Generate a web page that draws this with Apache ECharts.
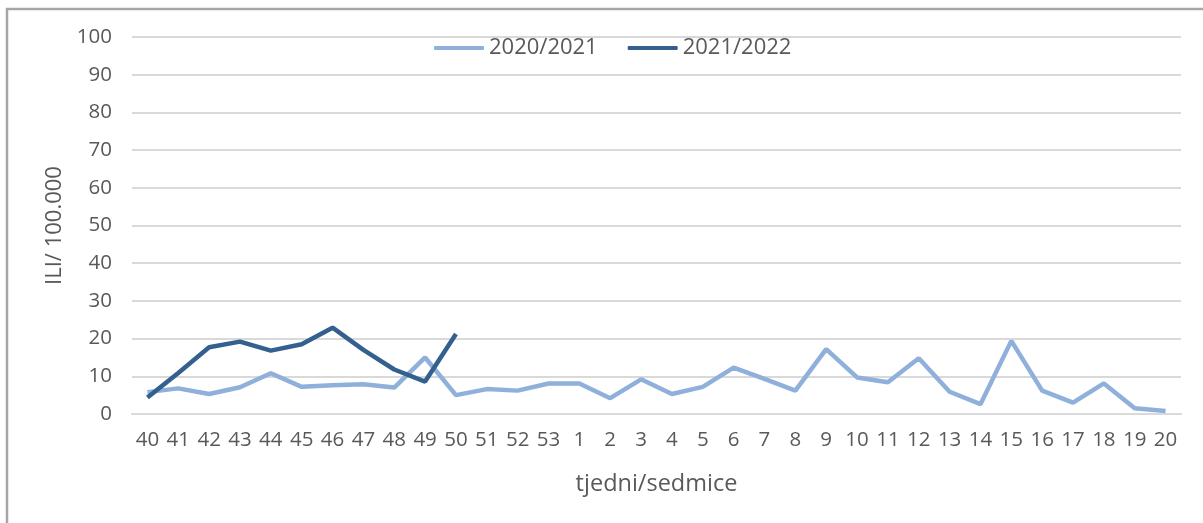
<!DOCTYPE html>
<html>
<head>
<meta charset="utf-8">
<script src="https://cdn.jsdelivr.net/npm/echarts@6/dist/echarts.min.js"></script>
<style>html,body{margin:0;padding:0;background:#fff}#c{width:1203px;height:523px}</style>
</head>
<body>
<div id="c"></div>
<script>
var weeks = ['40','41','42','43','44','45','46','47','48','49','50','51','52','53','1','2','3','4','5','6','7','8','9','10','11','12','13','14','15','16','17','18','19','20'];
var season2020 = [5.8,6.8,5.3,7.1,10.8,7.2,7.6,7.9,7.0,15.0,5.0,6.6,6.2,8.1,8.1,4.2,9.2,5.3,7.2,12.3,9.3,6.2,17.2,9.7,8.4,14.8,5.9,2.6,19.4,6.2,3.0,8.1,1.5,0.8];
var season2021 = [4.4,10.9,17.7,19.2,16.8,18.5,22.9,17.0,11.8,8.6,21.2];
var yTicks = [0,10,20,30,40,50,60,70,80,90,100];

var FONT = '"Open Sans", sans-serif';
var chart = echarts.init(document.getElementById('c'), null, {renderer:'canvas'});
chart.setOption({
  animation:false,
  backgroundColor:'#fff',
  graphic:[
    {type:'polyline', shape:{points:[[7,523],[7,9],[1203,9]]}, style:{stroke:'#a6a6a6', lineWidth:2.5, fill:null}}
  ],
  legend:{
    top:32, left:429, itemWidth:50, itemHeight:4, itemGap:30,
    icon:'roundRect',
    textStyle:{fontFamily:FONT, fontSize:22, color:'#595959'},
    data:['2020/2021','2021/2022']
  },
  grid:{left:132, right:22, top:37, bottom:109, containLabel:false},
  xAxis:{
    type:'category', data:weeks, boundaryGap:true,
    axisLine:{lineStyle:{color:'#d9d9d9', width:2}},
    axisTick:{show:false},
    axisLabel:{interval:0, fontFamily:FONT, fontSize:20.5, color:'#595959', margin:16},
    name:'tjedni/sedmice', nameLocation:'middle', nameGap:58,
    nameTextStyle:{fontFamily:FONT, fontSize:23.5, color:'#595959'}
  },
  yAxis:{
    type:'value', min:0, max:100, interval:10,
    axisLine:{show:false}, axisTick:{show:false},
    splitLine:{lineStyle:{color:'#d9d9d9', width:2}},
    axisLabel:{fontFamily:FONT, fontSize:20.5, color:'#595959', margin:20,
      formatter:function(v){return yTicks.indexOf(v)>=0? String(v):'';}},
    name:'ILI/ 100.000', nameLocation:'middle', nameGap:64,
    nameTextStyle:{fontFamily:FONT, fontSize:22, color:'#595959'}
  },
  series:[
    {name:'2020/2021', type:'line', data:season2020, symbol:'none', color:'#8fb0da',
     lineStyle:{width:4.5, color:'#8fb0da'}},
    {name:'2021/2022', type:'line', data:season2021, symbol:'none', color:'#33608f',
     lineStyle:{width:4.5, color:'#33608f'}}
  ]
});
</script>
</body>
</html>
